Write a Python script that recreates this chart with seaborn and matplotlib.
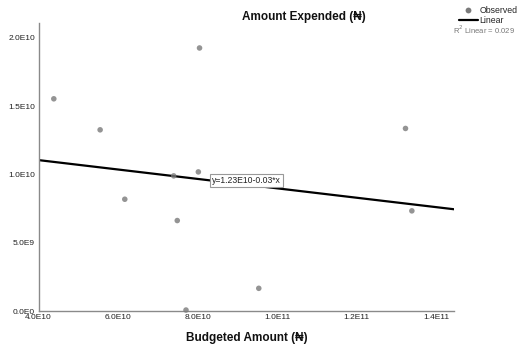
import matplotlib
matplotlib.use("Agg")
import matplotlib.pyplot as plt
from matplotlib.lines import Line2D
import seaborn as sns
import pandas as pd

# Data (Budgeted vs Expended, Naira)
budgeted = [4.385e10, 5.55e10, 8.05e10, 6.17e10, 7.40e10, 8.02e10,
            7.49e10, 7.71e10, 13.23e10, 13.39e10, 9.54e10]
expended = [15.53e9, 13.26e9, 19.25e9, 8.18e9, 9.89e9, 10.18e9,
            6.62e9, 0.07e9, 13.36e9, 7.33e9, 1.66e9]

x_ticks = [4e10, 6e10, 8e10, 1e11, 1.2e11, 1.4e11]
x_tick_labels = ["4.0E10", "6.0E10", "8.0E10", "1.0E11", "1.2E11", "1.4E11"]
y_ticks = [0, 5e9, 1e10, 1.5e10, 2e10]
y_tick_labels = ["0.0E0", "5.0E9", "1.0E10", "1.5E10", "2.0E10"]

title = "Amount Expended (\u20a6)"
xlabel = "Budgeted Amount (\u20a6)"
equation = "y=1.23E10-0.03*x"
r2_text = "R$^2$ Linear = 0.029"

df = pd.DataFrame({"budgeted": budgeted, "expended": expended})

sns.set_theme(style="white")
plt.rcParams["font.family"] = ["Liberation Sans", "DejaVu Sans"]

fig = plt.figure(figsize=(5.21, 3.47), dpi=100)
ax = fig.add_axes([38.5 / 521, 1 - 311 / 347, (454 - 38.5) / 521, (311 - 22.7) / 347])

ax.set_xlim(4.0e10, 1.445e11)
ax.set_ylim(0, 2.11e10)

sns.regplot(data=df, x="budgeted", y="expended", ax=ax, ci=None, truncate=False,
            scatter_kws=dict(s=16, color="#7a7a7a", edgecolor="none", zorder=3, clip_on=False),
            line_kws=dict(color="black", lw=1.6, zorder=2))

ax.set_xlim(4.0e10, 1.445e11)
ax.set_ylim(0, 2.11e10)

ax.set_xticks(x_ticks)
ax.set_xticklabels(x_tick_labels)
ax.set_yticks(y_ticks)
ax.set_yticklabels(y_tick_labels)
ax.tick_params(axis="both", length=0, labelsize=6, colors="#222222", pad=2.5)
ax.set_xlabel("")
ax.set_ylabel("")

for s in ["top", "right"]:
    ax.spines[s].set_visible(False)
for s in ["left", "bottom"]:
    ax.spines[s].set_color("#8a8a8a")
    ax.spines[s].set_linewidth(1.0)

fig.text(304 / 521, 1 - 17 / 347, title, ha="center", va="center",
         fontsize=8.5, fontweight="bold", color="#111111")
fig.text(246.5 / 521, 1 - 338 / 347, xlabel, ha="center", va="center",
         fontsize=8.5, fontweight="bold", color="#111111")

# equation label box
ax.annotate(equation, xy=(212 / 521, 1 - 180.5 / 347), xycoords="figure fraction",
            ha="left", va="center", fontsize=6.2, color="#222222",
            bbox=dict(boxstyle="square,pad=0.2", fc="white", ec="#999999", lw=0.8),
            zorder=5)

# legend
handles = [Line2D([], [], marker="o", ls="none", color="#7a7a7a", markersize=4.2,
                  markeredgecolor="none"),
           Line2D([], [], color="black", lw=1.6)]
fig.legend(handles, ["Observed", "Linear"], loc="upper left",
           bbox_to_anchor=(457 / 521, 1 - 4 / 347), frameon=False, fontsize=6.3,
           handlelength=2.2, handletextpad=0.2, labelspacing=0.1, borderpad=0.2,
           borderaxespad=0)
fig.text(453 / 521, 1 - 30 / 347, r2_text, ha="left", va="center",
         fontsize=5.5, color="#777777")

fig.savefig("out.png", dpi=100)
